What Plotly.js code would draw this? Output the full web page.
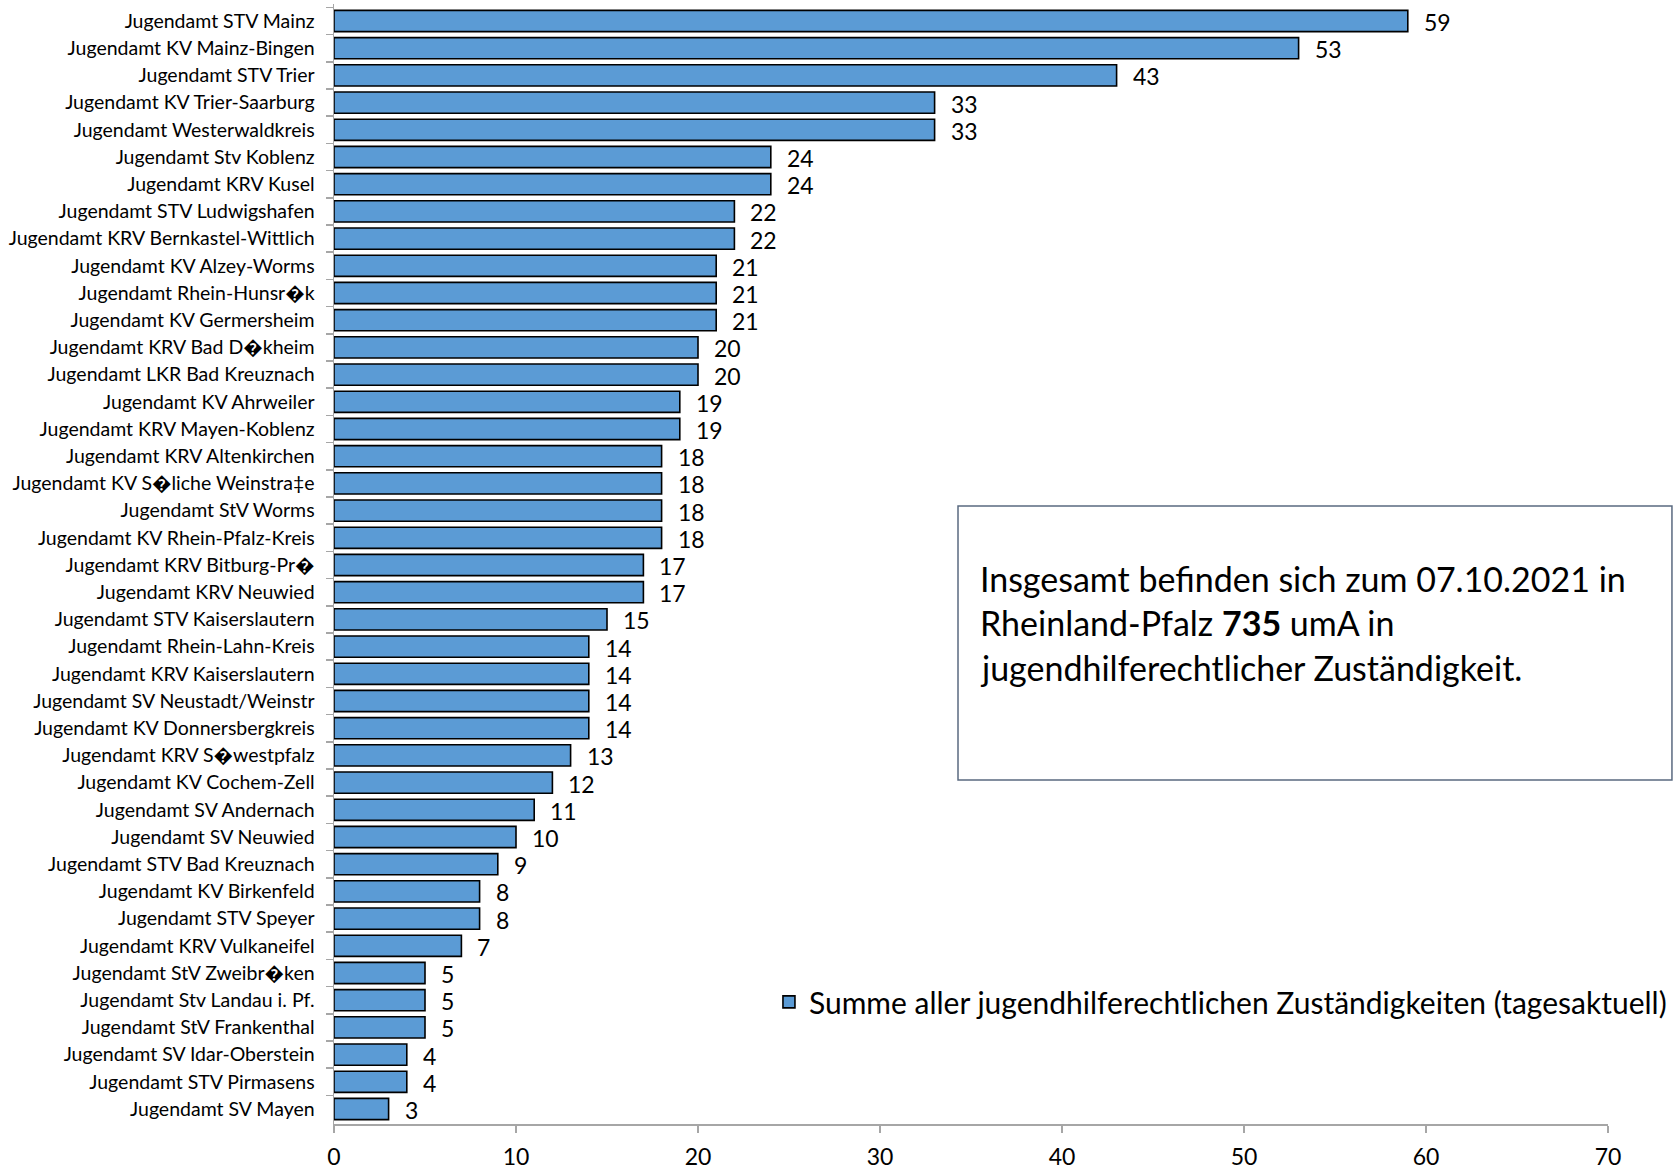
<!DOCTYPE html>
<html>
<head>
<meta charset="utf-8">
<script src="https://cdn.plot.ly/plotly-3.0.1.min.js"></script>
<style>html,body{margin:0;padding:0;background:#fff;}#chart{width:1678px;height:1170px;}</style>
</head>
<body>
<div id="chart"></div>
<script>
const categories = [
  "Jugendamt STV Mainz",
  "Jugendamt KV Mainz-Bingen",
  "Jugendamt STV Trier",
  "Jugendamt KV Trier-Saarburg",
  "Jugendamt Westerwaldkreis",
  "Jugendamt Stv Koblenz",
  "Jugendamt KRV Kusel",
  "Jugendamt STV Ludwigshafen",
  "Jugendamt KRV Bernkastel-Wittlich",
  "Jugendamt KV Alzey-Worms",
  "Jugendamt Rhein-Hunsr\uFFFDk",
  "Jugendamt KV Germersheim",
  "Jugendamt KRV Bad D\uFFFDkheim",
  "Jugendamt LKR Bad Kreuznach",
  "Jugendamt KV Ahrweiler",
  "Jugendamt KRV Mayen-Koblenz",
  "Jugendamt KRV Altenkirchen",
  "Jugendamt KV S\uFFFDliche Weinstra\u2021e",
  "Jugendamt StV Worms",
  "Jugendamt KV Rhein-Pfalz-Kreis",
  "Jugendamt KRV Bitburg-Pr\uFFFD",
  "Jugendamt KRV Neuwied",
  "Jugendamt STV Kaiserslautern",
  "Jugendamt Rhein-Lahn-Kreis",
  "Jugendamt KRV Kaiserslautern",
  "Jugendamt SV Neustadt/Weinstr",
  "Jugendamt KV Donnersbergkreis",
  "Jugendamt KRV S\uFFFDwestpfalz",
  "Jugendamt KV Cochem-Zell",
  "Jugendamt SV Andernach",
  "Jugendamt SV Neuwied",
  "Jugendamt STV Bad Kreuznach",
  "Jugendamt KV Birkenfeld",
  "Jugendamt STV Speyer",
  "Jugendamt KRV Vulkaneifel",
  "Jugendamt StV Zweibr\uFFFDken",
  "Jugendamt Stv Landau i. Pf.",
  "Jugendamt StV Frankenthal",
  "Jugendamt SV Idar-Oberstein",
  "Jugendamt STV Pirmasens",
  "Jugendamt SV Mayen"
];
const values = [59,53,43,33,33,24,24,22,22,21,21,21,20,20,19,19,18,18,18,18,17,17,15,14,14,14,14,13,12,11,10,9,8,8,7,5,5,5,4,4,3];
const seriesName = "Summe aller jugendhilferechtlichen Zuständigkeiten (tagesaktuell)";
const infoLines = [
  "Insgesamt befinden sich zum 07.10.2021 in",
  "Rheinland-Pfalz <b>735</b> umA in",
  "jugendhilferechtlicher Zuständigkeit."
];
const xTicks = [0,10,20,30,40,50,60,70];

const FONT = "Lato, 'Open Sans', sans-serif";

const trace = {
  type: "bar",
  orientation: "h",
  x: values,
  y: categories,
  name: seriesName,
  marker: {color: "#5B9BD5", line: {color: "#000000", width: 1.6}},
  hoverinfo: "x+y"
};

const valueAnnotations = values.map((v, i) => ({
  x: v, y: categories[i], xref: "x", yref: "y",
  text: String(v), showarrow: false, xanchor: "left", yanchor: "middle",
  xshift: 14, yshift: -1, font: {family: FONT, size: 23, color: "#000"}
}));

const infoY = [0.4875, 0.4482, 0.408];
const infoAnnotations = infoLines.map((t, i) => ({
  x: 0.5055, y: infoY[i], xref: "paper", yref: "paper",
  text: t, showarrow: false, xanchor: "left", yanchor: "middle",
  font: {family: FONT, size: 34, color: "#000"}
}));

const layout = {
  width: 1678, height: 1170,
  margin: {l: 334, r: 70, t: 4, b: 46},
  paper_bgcolor: "#fff", plot_bgcolor: "#fff",
  bargap: 0.22,
  showlegend: true,
  legend: {
    x: 1.0502, xanchor: "right", y: 0.109, yanchor: "middle",
    orientation: "h",
    font: {family: FONT, size: 30, color: "#000"},
    bgcolor: "rgba(0,0,0,0)"
  },
  xaxis: {
    range: [0, 70], tickvals: xTicks, ticktext: xTicks.map(String),
    automargin: false,
    showgrid: false, zeroline: false,
    showline: true, linecolor: "#a6a6a6", linewidth: 1.5,
    ticks: "outside", ticklen: 7, tickcolor: "#a6a6a6", tickwidth: 1.5,
    ticklabelstandoff: 5,
    tickfont: {family: FONT, size: 23, color: "#000"},
    fixedrange: true
  },
  yaxis: {
    type: "category", autorange: "reversed",
    automargin: false,
    showgrid: false, zeroline: false,
    showline: true, linecolor: "#a6a6a6", linewidth: 1.5,
    ticks: "outside", tickson: "boundaries", ticklen: 7, tickcolor: "#a6a6a6", tickwidth: 1.5,
    ticklabelstandoff: 14,
    tickfont: {family: FONT, size: 19.5, color: "#000"},
    fixedrange: true
  },
  shapes: [{
    type: "rect", xref: "paper", yref: "paper",
    x0: 0.4898, x1: 1.0502, y0: 0.3071, y1: 0.5518,
    line: {color: "#5a6a80", width: 1.5}, fillcolor: "rgba(0,0,0,0)"
  }],
  annotations: valueAnnotations.concat(infoAnnotations)
};

Plotly.newPlot("chart", [trace], layout, {displayModeBar: false, staticPlot: true});
</script>
</body>
</html>
